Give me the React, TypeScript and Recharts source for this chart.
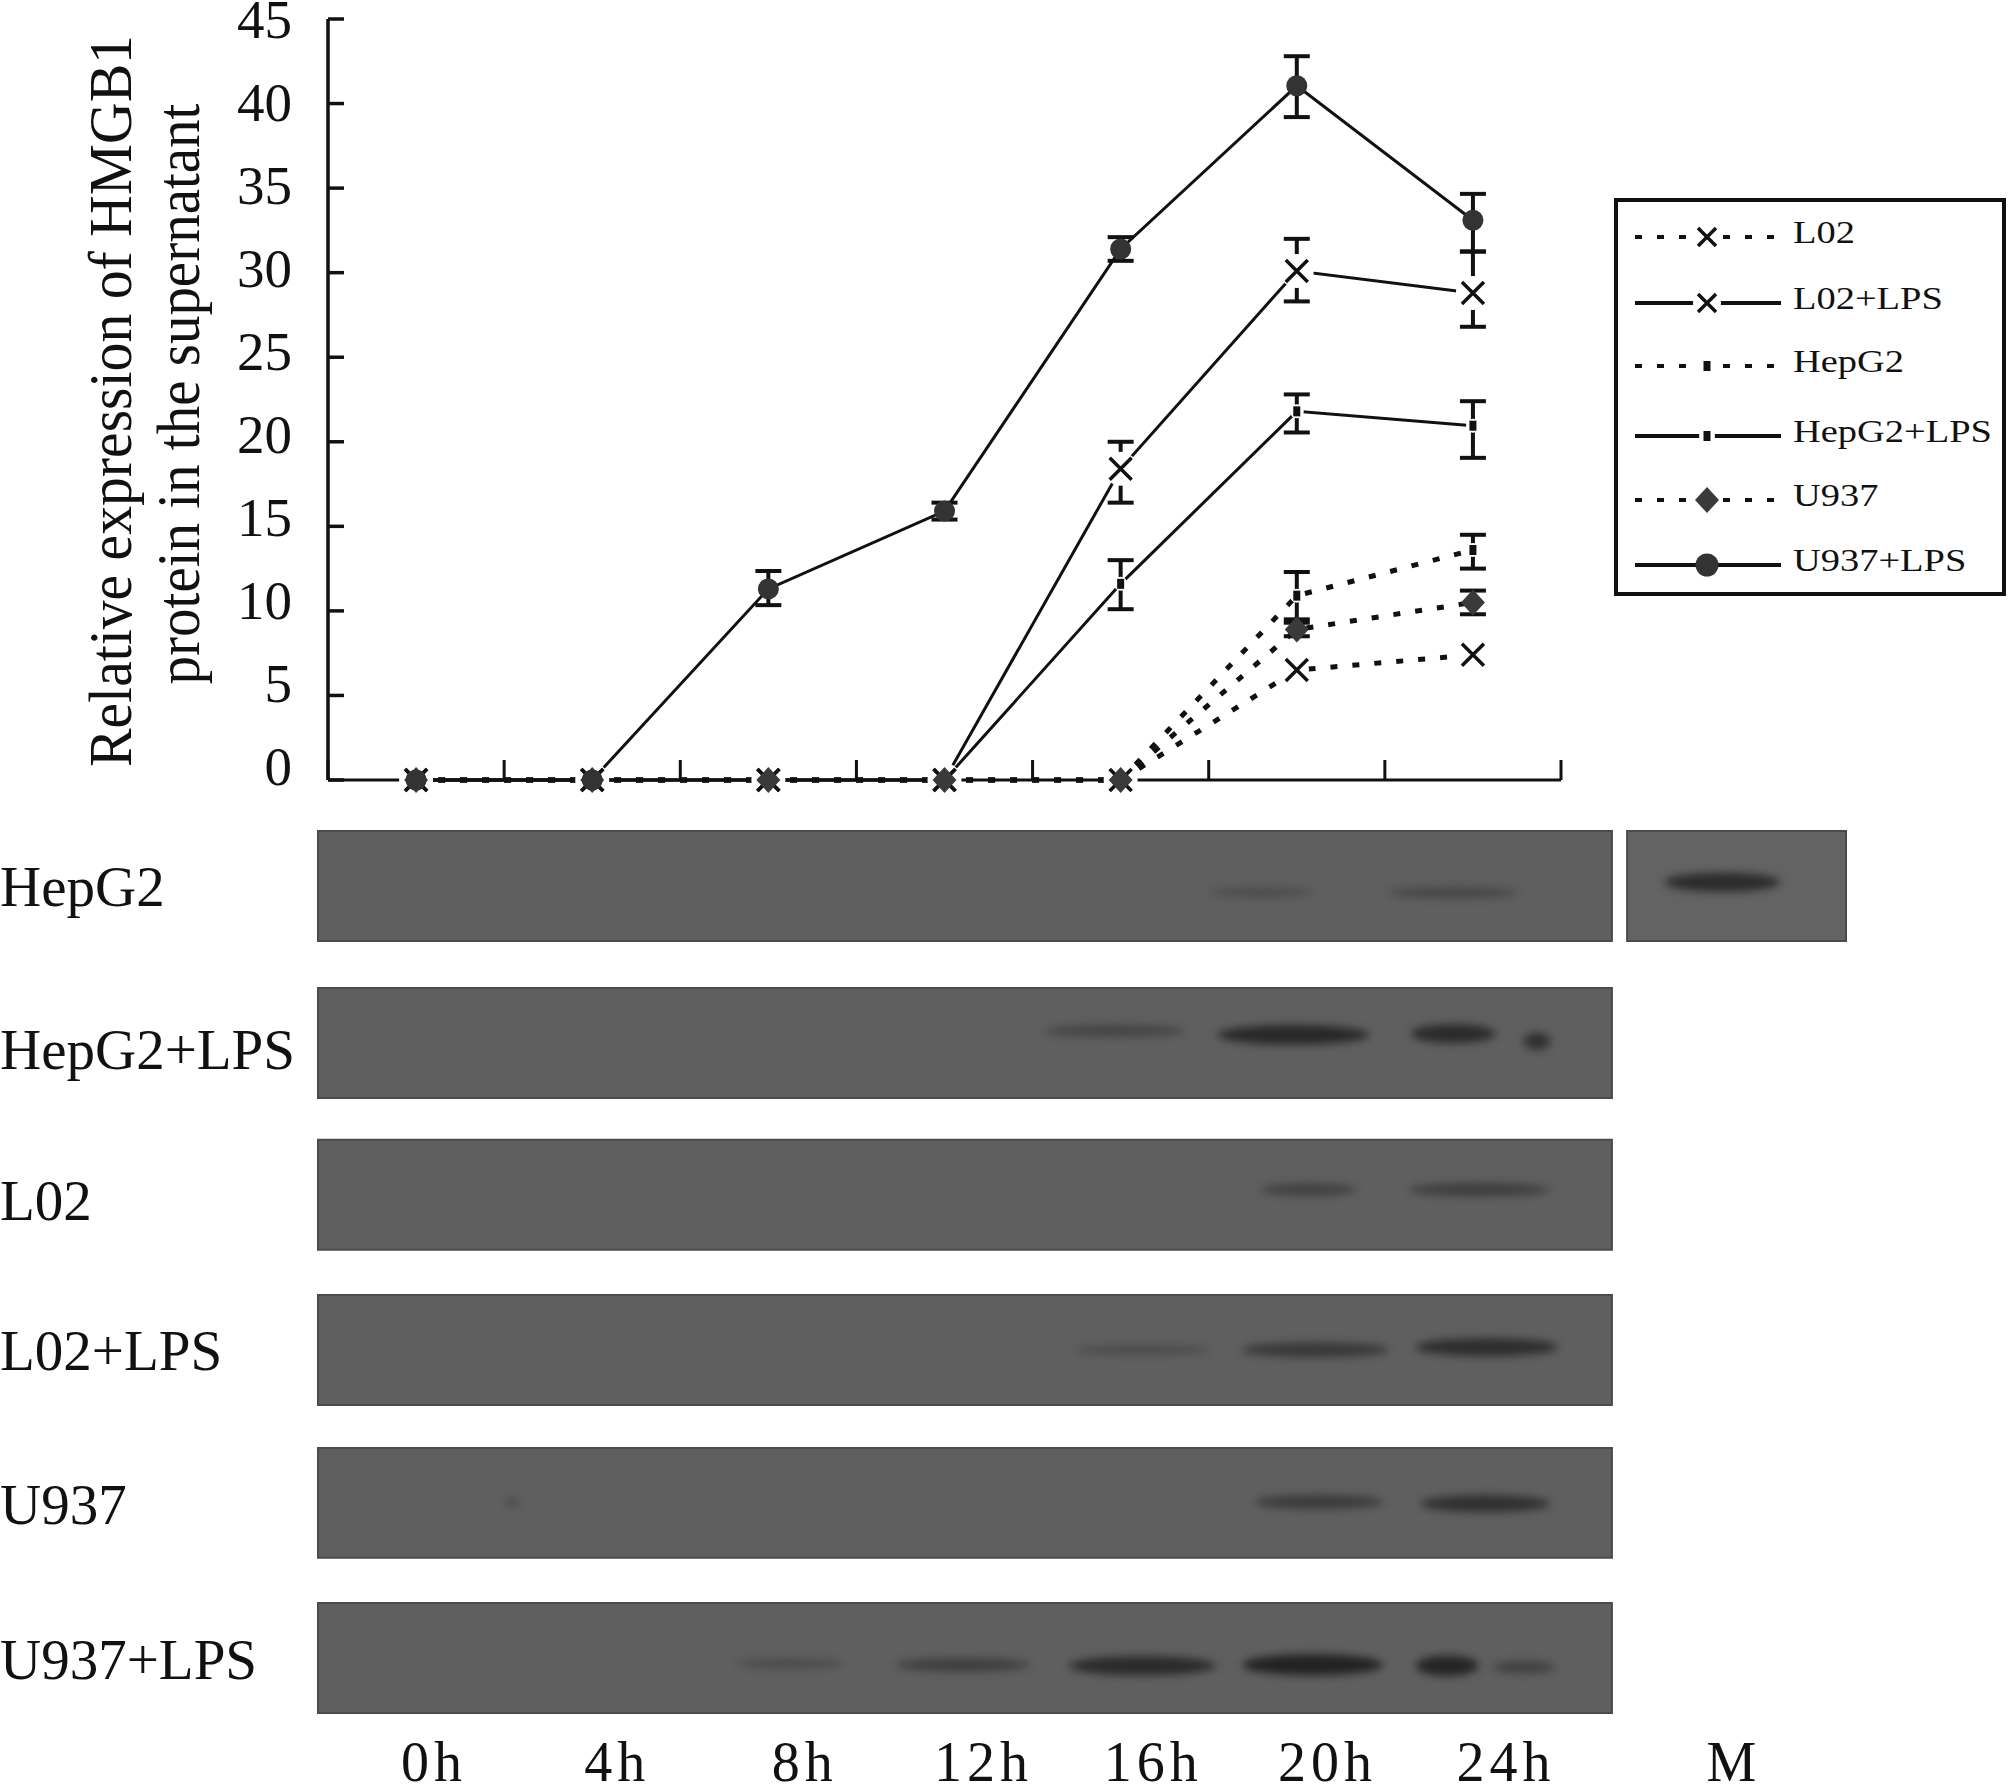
import {
  ErrorBar,
  Legend,
  Line,
  LineChart,
  ReferenceArea,
  Scatter,
  ScatterChart,
  XAxis,
  YAxis,
} from "recharts";

const SERIF = "'Liberation Serif', serif";
const INK = "#111";
const DOTS = "7 15";

// top chart
const hours = [0, 4, 8, 12, 16, 20, 24];
const hourTicks = [-2, 2, 6, 10, 14, 18, 22, 26];
const valueTicks = [0, 5, 10, 15, 20, 25, 30, 35, 40, 45];

const l02 = [0, 0, 0, 0, 0, 6.5, 7.4];
const l02Lps = [0, 0, 0, 0, 18.4, 30.1, 28.8];
const hepg2 = [0, 0, 0, 0, 0, 10.9, 13.6];
const hepg2Lps = [0, 0, 0, 0, 11.6, 21.8, 20.95];
const u937 = [0, 0, 0, 0, 0, 8.9, 10.5];
const u937Lps = [0, 0, 11.3, 15.9, 31.4, 41.05, 33.1];

// [down, up] distance from the value
const hepg2Err = [null, null, null, null, null, [1.4, 1.4], [1.1, 0.9]];
const l02LpsErr = [null, null, null, null, [2.0, 1.6], [1.8, 1.9], [2.0, 2.45]];
const hepg2LpsErr = [null, null, null, null, [1.5, 1.4], [1.25, 1.0], [1.9, 1.45]];
const u937Err = [null, null, null, null, null, [0.4, 0.4], [0.7, 0.7]];
const u937LpsErr = [null, null, [0.96, 1.06], [0.5, 0.5], [0.7, 0.7], [1.85, 1.75], [1.85, 1.56]];

const chartData = hours.map((hour, i) => ({
  hour,
  l02: l02[i],
  l02Lps: l02Lps[i],
  hepg2: hepg2[i],
  hepg2Lps: hepg2Lps[i],
  u937: u937[i],
  u937Lps: u937Lps[i],
  hepg2Err: hepg2Err[i],
  l02LpsErr: l02LpsErr[i],
  hepg2LpsErr: hepg2LpsErr[i],
  u937Err: u937Err[i],
  u937LpsErr: u937LpsErr[i],
}));

const seriesKeys = ["l02", "l02Lps", "hepg2", "hepg2Lps", "u937", "u937Lps"];
const seriesNames = ["L02", "L02+LPS", "HepG2", "HepG2+LPS", "U937", "U937+LPS"];
const seriesGlyphs = ["cross", "cross", "dot", "dot", "diamond", "round"];
const seriesDotted = [true, false, true, false, true, false];
const seriesHalo = [12, 17, 7, 7, 0, 0];
const legendRowY = [39, 105, 168, 238, 302, 367];

// blots
const rowNames = ["HepG2", "HepG2+LPS", "L02", "L02+LPS", "U937", "U937+LPS"];
const rowTicks = [0, 1, 2, 3, 4, 5];
const rowCentres = [0, 1.017, 2, 3.005, 3.995, 5];
const rowLabelDrop = [1, 9, 6, 1, 1, 1];
const laneTicks = [0, 4.1, 8.3, 12.3, 16.1, 20, 24, 29.1];
const laneLabels = ["0h", "4h", "8h", "12h", "16h", "20h", "24h", "M"];

const hepg2Bands = [
  { hour: 18.52, row: 0.043, span: 2.3, dark: 0.2 },
  { hour: 22.82, row: 0.043, span: 2.9, dark: 0.3 },
];
const hepg2LpsBands = [
  { hour: 15.23, row: 0.939, span: 3.15, dark: 0.35 },
  { hour: 19.24, row: 0.964, span: 3.4, dark: 0.85 },
  { hour: 22.82, row: 0.956, span: 1.9, dark: 0.8 },
  { hour: 24.69, row: 1.005, span: 0.6, dark: 0.7 },
];
const l02Bands = [
  { hour: 19.58, row: 1.967, span: 2.15, dark: 0.4 },
  { hour: 23.4, row: 1.967, span: 3.15, dark: 0.45 },
];
const l02LpsBands = [
  { hour: 15.86, row: 3.004, span: 3, dark: 0.22 },
  { hour: 19.73, row: 3.004, span: 3.3, dark: 0.55 },
  { hour: 23.57, row: 2.987, span: 3.2, dark: 0.75 },
];
const u937Bands = [
  { hour: 1.75, row: 3.99, span: 0.3, dark: 0.2 },
  { hour: 19.81, row: 3.99, span: 2.9, dark: 0.5 },
  { hour: 23.54, row: 4.0, span: 2.9, dark: 0.7 },
];
const u937LpsBands = [
  { hour: 7.97, row: 5.036, span: 2.4, dark: 0.22 },
  { hour: 11.84, row: 5.044, span: 3, dark: 0.45 },
  { hour: 15.86, row: 5.05, span: 3.3, dark: 0.8 },
  { hour: 19.67, row: 5.044, span: 3.15, dark: 0.95 },
  { hour: 22.68, row: 5.05, span: 1.4, dark: 0.9 },
  { hour: 24.4, row: 5.06, span: 1.4, dark: 0.4 },
];
const markerBands = [{ hour: 28.84, row: -0.024, span: 2.6, dark: 0.8 }];

const allBands = [
  ...hepg2Bands,
  ...hepg2LpsBands,
  ...l02Bands,
  ...l02LpsBands,
  ...u937Bands,
  ...u937LpsBands,
  ...markerBands,
];

const PX_PER_HOUR = 44.67;

function Glyph({ kind, cx, cy, halo = 0, big = false }: any) {
  const r = big ? 11 : 9;
  return (
    <g>
      {halo > 0 && <circle cx={cx} cy={cy} r={halo} fill="#fff" />}
      {kind === "cross" && (
        <path
          d={`M${cx - r} ${cy - r}L${cx + r} ${cy + r}M${cx - r} ${cy + r}L${cx + r} ${cy - r}`}
          stroke={INK}
          strokeWidth={3.5}
          fill="none"
        />
      )}
      {kind === "dot" && <rect x={cx - 3.5} y={cy - 5} width={7} height={10} fill={INK} />}
      {kind === "diamond" && (
        <path d={`M${cx} ${cy - 13}L${cx + 12} ${cy}L${cx} ${cy + 13}L${cx - 12} ${cy}Z`} fill="#3a3a3a" />
      )}
      {kind === "round" && <circle cx={cx} cy={cy} r={big ? 10.5 : 11.5} fill="#333" />}
    </g>
  );
}

function LegendBox() {
  return (
    <svg width={392} height={398} style={{ display: "block" }}>
      <rect x={2} y={2} width={388} height={394} fill="#fff" stroke={INK} strokeWidth={4} />
      {seriesNames.map((name, i) => (
        <g key={name}>
          <line
            x1={21}
            x2={167}
            y1={legendRowY[i]}
            y2={legendRowY[i]}
            stroke={INK}
            strokeWidth={4}
            strokeDasharray={seriesDotted[i] ? DOTS : undefined}
          />
          <Glyph
            kind={seriesGlyphs[i]}
            cx={93}
            cy={legendRowY[i]}
            halo={seriesGlyphs[i] === "cross" ? 14 : seriesGlyphs[i] === "dot" ? 8 : 0}
          />
          <text
            transform={`translate(179 ${legendRowY[i] + 6}) scale(1.24 1)`}
            fontFamily={SERIF}
            fontSize={31}
            fill={INK}
          >
            {name}
          </text>
        </g>
      ))}
    </svg>
  );
}

function ValueTick({ x, y, payload }: any) {
  // the printed numbers sit a little higher towards the bottom of the axis
  const lift = ((45 - payload.value) / 45) * 14;
  return (
    <text x={x} y={y - lift} textAnchor="end" dominantBaseline="central" fontFamily={SERIF} fontSize={55} fill={INK}>
      {payload.value}
    </text>
  );
}

function RowTick({ y, payload }: any) {
  return (
    <text x={0} y={y + rowLabelDrop[payload.value]} dominantBaseline="central" fontFamily={SERIF} fontSize={57} fill={INK}>
      {rowNames[payload.value]}
    </text>
  );
}

function LaneTick({ x, y, index }: any) {
  return (
    <text x={x} y={y + 60} textAnchor="middle" letterSpacing={5} fontFamily={SERIF} fontSize={56} fill={INK}>
      {laneLabels[index]}
    </text>
  );
}

function BandShape({ cx, cy, x, y, width, height, payload }: any) {
  const px = cx ?? x + width / 2;
  const py = cy ?? y + height / 2;
  return (
    <ellipse
      cx={px}
      cy={py}
      rx={(payload.span * PX_PER_HOUR) / 2}
      ry={3 + 8 * payload.dark}
      fill="#1a1a1a"
      opacity={0.12 + 0.8 * payload.dark}
      style={{ filter: "blur(4px)" }}
    />
  );
}

function TimeCourse() {
  return (
    <LineChart
      width={2008}
      height={810}
      data={chartData}
      margin={{ top: 19, right: 447, bottom: 29, left: 228 }}
      style={{ position: "absolute", left: 0, top: 0 }}
    >
      <XAxis
        dataKey="hour"
        type="number"
        domain={[-2, 26]}
        ticks={hourTicks}
        tick={() => <g />}
        height={1}
        tickSize={-20}
        axisLine={{ stroke: INK, strokeWidth: 3 }}
        tickLine={{ stroke: INK, strokeWidth: 3 }}
      />
      <YAxis
        type="number"
        domain={[0, 45]}
        ticks={valueTicks}
        width={100}
        tickSize={-16}
        tickMargin={52}
        interval={0}
        tick={ValueTick}
        axisLine={{ stroke: INK, strokeWidth: 3.5 }}
        tickLine={{ stroke: INK, strokeWidth: 3.5 }}
      />

      {/* lines and error bars first, the markers go on top in a second pass */}
      <Line dataKey="l02" type="linear" stroke={INK} strokeWidth={5} strokeDasharray={DOTS} dot={false} legendType="none" isAnimationActive={false} />
      <Line dataKey="l02Lps" type="linear" stroke={INK} strokeWidth={3} dot={false} legendType="none" isAnimationActive={false}>
        <ErrorBar dataKey="l02LpsErr" width={13} stroke={INK} strokeWidth={4} isAnimationActive={false} />
      </Line>
      <Line dataKey="hepg2" type="linear" stroke={INK} strokeWidth={5} strokeDasharray={DOTS} dot={false} legendType="none" isAnimationActive={false}>
        <ErrorBar dataKey="hepg2Err" width={13} stroke={INK} strokeWidth={4} isAnimationActive={false} />
      </Line>
      <Line dataKey="hepg2Lps" type="linear" stroke={INK} strokeWidth={3} dot={false} legendType="none" isAnimationActive={false}>
        <ErrorBar dataKey="hepg2LpsErr" width={13} stroke={INK} strokeWidth={4} isAnimationActive={false} />
      </Line>
      <Line dataKey="u937" type="linear" stroke={INK} strokeWidth={5} strokeDasharray={DOTS} dot={false} legendType="none" isAnimationActive={false}>
        <ErrorBar dataKey="u937Err" width={13} stroke={INK} strokeWidth={4} isAnimationActive={false} />
      </Line>
      <Line dataKey="u937Lps" type="linear" stroke={INK} strokeWidth={3} dot={false} legendType="none" isAnimationActive={false}>
        <ErrorBar dataKey="u937LpsErr" width={13} stroke={INK} strokeWidth={4} isAnimationActive={false} />
      </Line>

      {/* white gap round the markers that sit on the baseline */}
      <Line
        dataKey="u937"
        stroke="none"
        legendType="none"
        isAnimationActive={false}
        dot={(p: any) =>
          p.payload.u937 === 0 ? <circle key={p.key} cx={p.cx} cy={p.cy} r={17} fill="#fff" /> : <g key={p.key} />
        }
      />

      {seriesKeys.map((key, i) => (
        <Line
          key={`${key}-markers`}
          dataKey={key}
          name={seriesNames[i]}
          stroke="none"
          isAnimationActive={false}
          dot={(p: any) => (
            <Glyph
              key={p.key}
              big
              kind={seriesGlyphs[i]}
              cx={p.cx}
              cy={p.cy}
              halo={p.value > 0 ? seriesHalo[i] : 0}
            />
          )}
        />
      ))}

      <Legend
        layout="vertical"
        align="center"
        verticalAlign="middle"
        content={LegendBox}
        wrapperStyle={{ position: "absolute", left: 1614, top: 198, width: 392, height: 398 }}
      />

      <text transform="translate(131 401) rotate(-90) scale(1.012 1.06)" textAnchor="middle" fontFamily={SERIF} fontSize={57} fill={INK}>
        Relative expression of HMGB1
      </text>
      <text transform="translate(199 394) rotate(-90) scale(1 1.06)" textAnchor="middle" fontFamily={SERIF} fontSize={57} fill={INK}>
        protein in the supernatant
      </text>
    </LineChart>
  );
}

function BlotPanels() {
  return (
    <ScatterChart
      width={2008}
      height={1785}
      margin={{ top: 831, right: 162, bottom: 0, left: 0 }}
      style={{ position: "absolute", left: 0, top: 0 }}
    >
      <XAxis
        dataKey="hour"
        type="number"
        domain={[-2.597, 31.61]}
        ticks={laneTicks}
        interval={0}
        height={72}
        axisLine={false}
        tickLine={false}
        tick={LaneTick}
      />
      <YAxis
        dataKey="row"
        type="number"
        reversed
        domain={[-0.356, 5.356]}
        ticks={rowTicks}
        interval={0}
        width={318}
        axisLine={false}
        tickLine={false}
        tick={RowTick}
      />
      {rowCentres.map((row) => (
        <ReferenceArea
          key={row}
          x1={-2.597}
          x2={26.37}
          y1={row - 0.356}
          y2={row + 0.356}
          fill="#5f5f5f"
          fillOpacity={1}
          stroke="#4b4b4b"
          strokeWidth={2}
          ifOverflow="visible"
        />
      ))}
      <ReferenceArea x1={26.71} x2={31.61} y1={-0.356} y2={0.356} fill="#636363" fillOpacity={1} stroke="#4b4b4b" strokeWidth={2} />
      <Scatter data={allBands} shape={BandShape} isAnimationActive={false} />
    </ScatterChart>
  );
}

export default function App() {
  return (
    <div style={{ position: "absolute", left: 0, top: 0, width: 2008, height: 1785, overflow: "hidden", background: "#fff" }}>
      <BlotPanels />
      <TimeCourse />
    </div>
  );
}
